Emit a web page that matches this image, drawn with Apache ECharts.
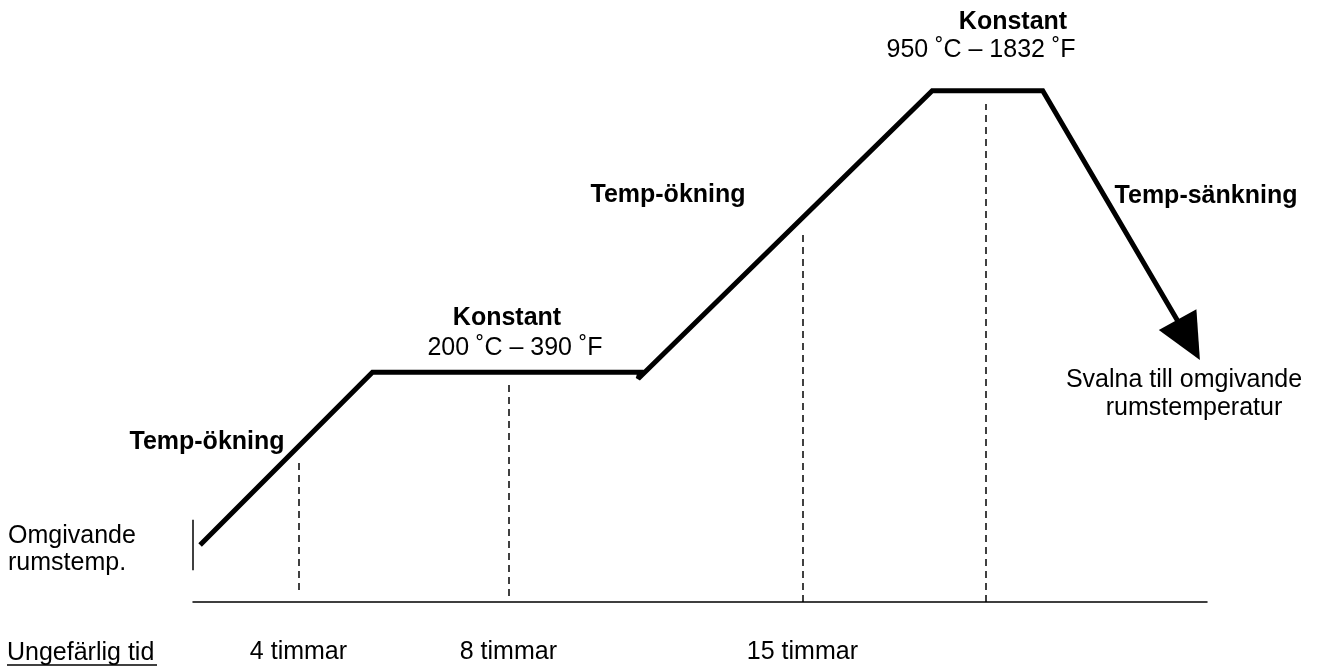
<!DOCTYPE html>
<html><head><meta charset="utf-8">
<script src="https://cdn.jsdelivr.net/npm/echarts@6/dist/echarts.min.js"></script>
<style>html,body{margin:0;padding:0;background:#fff}#c{width:1327px;height:668px}</style>
</head><body><div id="c"></div>
<script>
// Schematic time (0-100 % of time axis) and relative temperature level (0-100)
const profileX = [0.7, 17.7, 44.1, 43.9, 72.9, 83.8, 98.2];
const profileY = [9.5, 38.3, 38.3, 37.2, 85.2, 85.2, 43.7];
const dashX = [10.4, 31.1, 60.1, 78.2];
const dashTop = [23.3, 36.7, 61.7, 83.0];
const dashBottom = [2.0, 1.0, 0, 0];
const startMarkX = 0;
const startMarkY = [5.3, 13.7];
const tickValues = [10.4, 31.1, 60.1];
const tickLabels = ['4 timmar', '8 timmar', '15 timmar'];

const FONT = '"Liberation Sans", Arial, sans-serif';
const SIZE = 25;

const last = profileX.length - 1;
const profileData = profileX.map((x, i) => i === last
  ? { value: [x, profileY[i]], symbol: 'triangle', symbolSize: [43, 46], symbolRotate: -151 }
  : { value: [x, profileY[i]], symbol: 'none' });

const dashData = dashX.map((x, i) => ({ coords: [[x, dashBottom[i]], [x, dashTop[i]]] }));

function txt(text, x, y, bold, align) {
  return {
    type: 'text', x: x, y: y, silent: true,
    style: {
      text: text, fill: '#000', align: align || 'center', verticalAlign: 'middle',
      font: (bold ? 'bold ' : '') + SIZE + 'px ' + FONT
    }
  };
}

const chart = echarts.init(document.getElementById('c'), null, { renderer: 'canvas' });
chart.setOption({
  animation: false,
  backgroundColor: '#fff',
  grid: { left: 193, top: 2, width: 1014, height: 600 },
  xAxis: {
    type: 'value', min: 0, max: 100,
    axisLine: { show: true, onZero: false, lineStyle: { color: '#000', width: 1.5 } },
    axisTick: { show: false },
    splitLine: { show: false },
    axisLabel: {
      show: true, customValues: tickValues, margin: 38,
      color: '#000', fontSize: SIZE, fontFamily: FONT,
      formatter: function (v) { const i = tickValues.indexOf(v); return i >= 0 ? tickLabels[i] : ''; }
    }
  },
  yAxis: { type: 'value', min: 0, max: 100, show: false },
  series: [
    {
      type: 'lines', coordinateSystem: 'cartesian2d', silent: true,
      lineStyle: { color: '#000', width: 1.5, type: [7, 5], opacity: 1 },
      data: dashData
    },
    {
      type: 'lines', coordinateSystem: 'cartesian2d', silent: true,
      lineStyle: { color: '#000', width: 1.5, type: 'solid', opacity: 1 },
      data: [{ coords: [[startMarkX, startMarkY[0]], [startMarkX, startMarkY[1]]] }]
    },
    {
      type: 'line', silent: true, clip: false,
      data: profileData,
      lineStyle: { color: '#000', width: 5, join: 'miter', miterLimit: 2, cap: 'butt' },
      itemStyle: { color: '#000' },
      emphasis: { disabled: true }
    }
  ],
  graphic: [
    txt('Temp-ökning', 207, 442, true),
    txt('Konstant', 507, 318, true),
    txt('200 ˚C – 390 ˚F', 515, 348, false),
    txt('Temp-ökning', 668, 195, true),
    txt('Konstant', 1013, 22, true),
    txt('950 ˚C – 1832 ˚F', 981, 50, false),
    txt('Temp-sänkning', 1206, 196, true),
    txt('Svalna till omgivande', 1184, 380, false),
    txt('rumstemperatur', 1194, 408, false),
    txt('Omgivande', 8, 536, false, 'left'),
    txt('rumstemp.', 8, 563, false, 'left'),
    txt('Ungefärlig tid', 7, 653, false, 'left'),
    { type: 'line', silent: true, shape: { x1: 7, y1: 665, x2: 157, y2: 665 }, style: { stroke: '#000', lineWidth: 1.5 } }
  ]
});
</script></body></html>
